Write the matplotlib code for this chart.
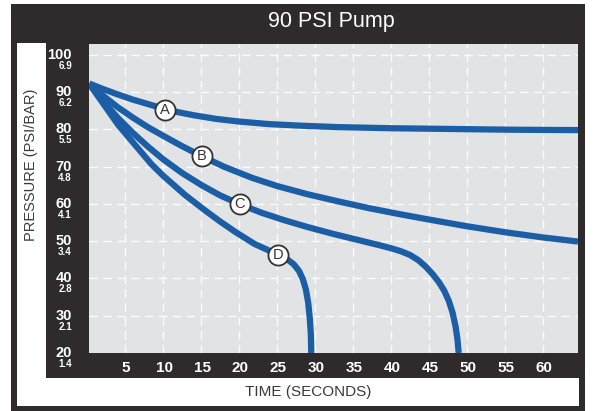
import matplotlib
matplotlib.use("Agg")
import matplotlib.pyplot as plt
from matplotlib.patches import Rectangle
import matplotlib.transforms as mtransforms

plt.rcParams['font.family'] = ['Liberation Sans', 'DejaVu Sans']

# ---- data ----
title = "90 PSI Pump"
x_label = "TIME (SECONDS)"
y_label = "PRESSURE (PSI/BAR)"
x_ticks = [5, 10, 15, 20, 25, 30, 35, 40, 45, 50, 55, 60]
psi_ticks = [20, 30, 40, 50, 60, 70, 80, 90, 100]
bar_labels = ["1.4", "2.1", "2.8", "3.4", "4.1", "4.8", "5.5", "6.2", "6.9"]

a_x = [0.3, 2, 4, 6, 8, 10, 12, 14, 17, 20, 24, 28, 33, 40, 48, 56, 64.6]
a_y = [92.3, 90.9, 89.4, 88.0, 86.8, 85.6, 84.6, 83.8, 82.8, 82.1, 81.4, 81.0, 80.6, 80.3, 80.1, 79.9, 79.8]

b_x = [0.3, 2, 4, 6, 8, 10, 12.5, 15.1, 18, 21.7, 25, 29, 33, 37, 41, 45, 50, 55, 60, 64.6]
b_y = [92.2, 89.2, 86.0, 83.2, 80.6, 78.3, 75.5, 72.8, 70.0, 67.0, 64.8, 62.6, 60.7, 58.9, 57.3, 55.8, 54.0, 52.4, 51.0, 49.9]

c_x = [0.3, 2, 4, 6, 8, 10, 12.5, 15.1, 17.5, 20.1, 23, 26, 29, 32.3, 35.5, 38.5, 40.0,
       41.3, 42.5, 43.6, 44.6, 45.5, 46.3, 47.0, 47.6, 48.1, 48.5, 48.75, 48.9]
c_y = [92.2, 87.8, 83.2, 79.1, 75.4, 72.0, 68.3, 65.0, 62.3, 59.9, 57.6, 55.6, 53.8, 52.0, 50.4, 48.9, 48.1,
       47.3, 46.3, 44.9, 43.1, 41.1, 39.0, 36.7, 34.0, 30.8, 27.0, 23.5, 20.0]

d_x = [0.3, 2, 4.1, 6, 8.5, 10, 12.9, 15.5, 17.5, 19.5, 22, 25.1, 26.3, 27.2, 27.9, 28.4, 28.8,
       29.1, 29.3, 29.45, 29.5]
d_y = [92.2, 87.3, 81.2, 76.6, 70.6, 67.6, 62.4, 58.3, 55.3, 52.5, 49.3, 46.4, 45.2, 43.8, 42.0, 39.8, 37.0,
       33.5, 29.5, 25.0, 20.0]

curve_letters = ["A", "B", "C", "D"]
label_x = [10.3, 15.1, 20.1, 25.1]
label_y = [85.2, 72.8, 59.9, 46.4]

legend_title = "FLOW RATE"
legend_texts = ["2.0 oz p/sec [59 ml p/sec]", "4.0 oz p/sec [118 ml p/sec]",
                "6.0 oz p/sec [177 ml p/sec]", "8.0 oz p/sec [237 ml p/sec]"]

# ---- style ----
W, H = 605, 411
DARK = "#2f2b2c"
PLOT_BG = "#e1e3e5"
BLUE = "#1b5ea6"
TXT = "#3a3a3a"
LEG_TXT = "#6a6a6a"

fig = plt.figure(figsize=(W / 100, H / 100), dpi=100)
fig.patch.set_facecolor("white")

bg = fig.add_axes([0, 0, 1, 1], zorder=-1)
bg.set_xlim(0, W)
bg.set_ylim(H, 0)
bg.axis("off")

bg.add_patch(Rectangle((11, 4), 574, 407, facecolor=DARK, edgecolor="none"))
bg.add_patch(Rectangle((17, 43), 29, 363, facecolor="white", edgecolor="none"))
bg.add_patch(Rectangle((17, 378), 562, 28, facecolor="white", edgecolor="none"))

bg.text(331, 22, title, color="white", fontsize=15.5, ha="center", va="center")
bg.text(308, 392, x_label, color=TXT, fontsize=11, ha="center", va="center")
bg.text(31, 165, y_label, color=TXT, fontsize=10.5, ha="center", va="center", rotation=90)

# ---- main plot ----
L, R, T, B = 89, 578, 44, 353
ax = fig.add_axes([L / W, 1 - B / H, (R - L) / W, (B - T) / H])
ax.set_facecolor(PLOT_BG)
ax.set_xlim(0.26, 64.6)
ax.set_ylim(20, 102.9)
for s in ax.spines.values():
    s.set_visible(False)
ax.set_xticks(x_ticks)
ax.set_yticks(psi_ticks[1:])
ax.tick_params(length=0, labelbottom=False, labelleft=False)
ax.grid(True, color="white", linestyle=(0, (6, 4)), linewidth=1.0, alpha=0.9)
ax.set_axisbelow(True)

for xs, ys in [(a_x, a_y), (b_x, b_y), (c_x, c_y), (d_x, d_y)]:
    ax.plot(xs, ys, color=BLUE, linewidth=4.5, solid_capstyle="butt",
            solid_joinstyle="round", zorder=3, clip_on=True)

for lx, ly, lt in zip(label_x, label_y, curve_letters):
    ax.plot([lx], [ly], marker="o", markersize=14.5, markerfacecolor="white",
            markeredgecolor="#333333", markeredgewidth=1.3, zorder=4)
    ax.text(lx, ly, lt, ha="center", va="center", fontsize=10.5, color="#333333", zorder=5)

# y tick labels (psi big, bar small)
ytrans = mtransforms.blended_transform_factory(ax.transAxes, ax.transData)
for p, b in zip(psi_ticks, bar_labels):
    ax.text(-0.035, p, str(p), transform=ytrans, ha="right", va="center",
            fontsize=10.5, fontweight="bold", color="white", clip_on=False)
    off = mtransforms.offset_copy(ytrans, fig=fig, x=0, y=-11, units="dots")
    ax.text(-0.035, p, b, transform=off, ha="right", va="center",
            fontsize=7, fontweight="bold", color="white", clip_on=False)

# x tick labels
xtrans = mtransforms.blended_transform_factory(ax.transData, ax.transAxes)
for t in x_ticks:
    off = mtransforms.offset_copy(xtrans, fig=fig, x=1, y=-15, units="dots")
    ax.text(t, 0, str(t), transform=off, ha="center", va="center",
            fontsize=11, fontweight="bold", color="white", clip_on=False)

# legend
bg.text(99, 257, legend_title, color=TXT, fontsize=13.5, ha="left", va="center")
leg_y = [279, 299.5, 320, 340.5]
for ly, lt, tx in zip(leg_y, curve_letters, legend_texts):
    bg.plot([104], [ly], marker="o", markersize=12, markerfacecolor="white",
            markeredgecolor="#333333", markeredgewidth=1.2)
    bg.text(104, ly + 0.5, lt, ha="center", va="center", fontsize=9.5, color="#333333")
    bg.text(120, ly, tx, ha="left", va="center", fontsize=10.3, color=LEG_TXT)

fig.savefig("out.png", dpi=100)
